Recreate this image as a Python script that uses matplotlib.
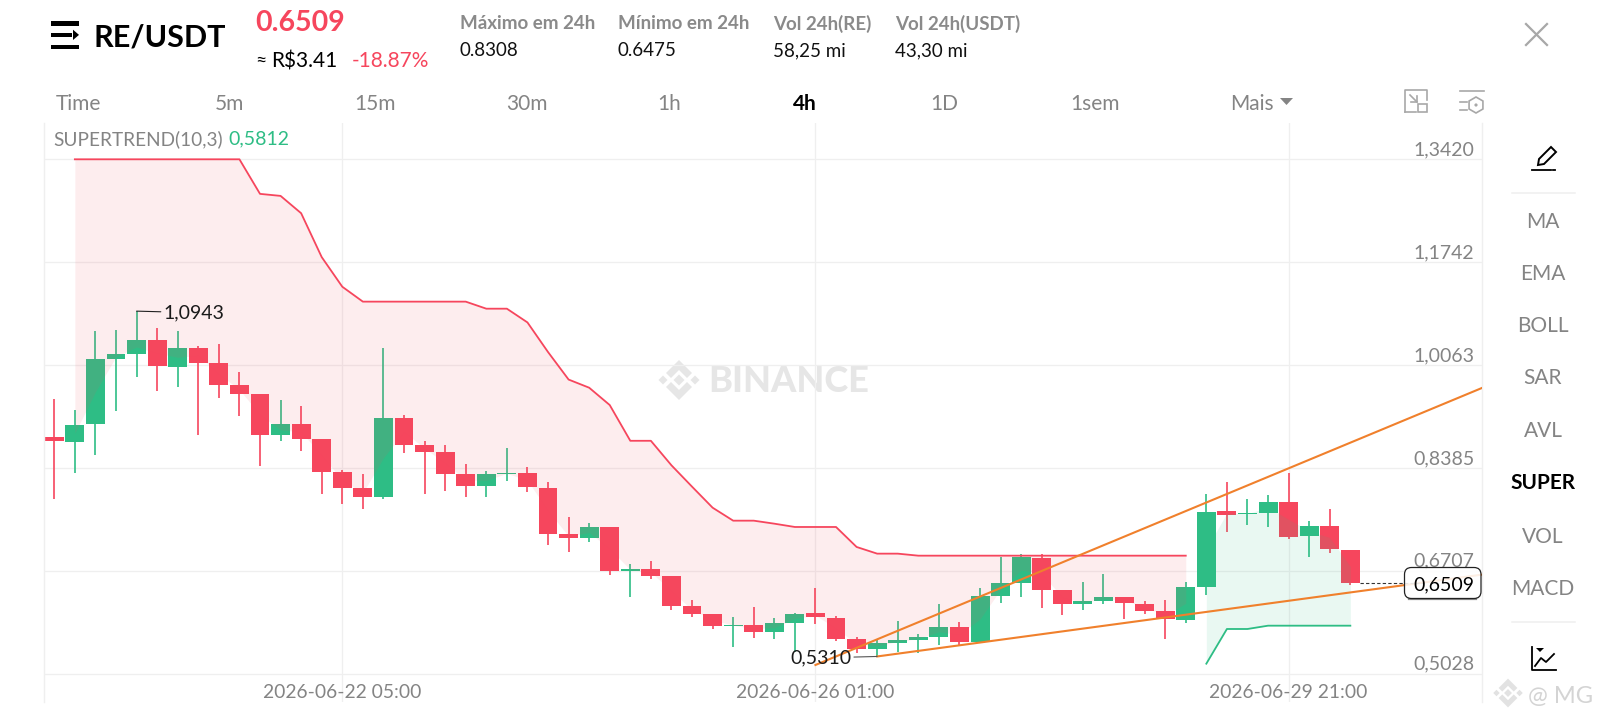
import matplotlib
matplotlib.use("Agg")
import matplotlib.pyplot as plt
import numpy as np
import matplotlib.transforms as mtrans
from matplotlib.patches import FancyBboxPatch, Rectangle, Polygon, RegularPolygon, Circle

plt.rcParams['font.family'] = ['Lato', 'DejaVu Sans']

# ---- data ----
open_ = [.8884,.8814,.9096,1.0162,1.0238,1.0478,1.0037,1.0342,1.0102,.9733,.9591,.8917,.9096,.8852,.8324,.8052,
         .7906,.9194,.8765,.8640,.8286,.8085,.8286,.8297,.8064,.7302,.7237,.7427,.6710,.6742,.6623,.6139,
         .6003,.5807,.5823,.5709,.5856,.6014,.5943,.5590,.5432,.5535,.5579,.5628,.5796,.5546,.6302,.6508,
         .6921,.6389,.6160,.6220,.6280,.6171,.6051,.5910,.6448,.7677,.7628,.7656,.7830,.7269,.7444,.7047]
high = [.9504,.9330,1.0619,1.0635,1.0943,1.0668,1.0619,1.0374,1.0407,.9945,.9591,.9493,.9396,.8852,.8351,.8281,
        1.0336,.9243,.8830,.8759,.8449,.8341,.8705,.8395,.8151,.7580,.7482,.7427,.6813,.6862,.6623,.6231,
        .6003,.5948,.6117,.5932,.6014,.6427,.5965,.5622,.5579,.5894,.5676,.6166,.5872,.6427,.6938,.6981,
        .6981,.6394,.6530,.6655,.6285,.6209,.6225,.6519,.7955,.8161,.7873,.7938,.8308,.7520,.7710,.7047]
low = [.7873,.8303,.8591,.9319,.9863,.9635,.9711,.8922,.9531,.9232,.8417,.8830,.8667,.7960,.7797,.7710,
       .7884,.8623,.7965,.8014,.7916,.7916,.8172,.7998,.7134,.7020,.7183,.6639,.6286,.6568,.6073,.5959,
       .5763,.5470,.5611,.5595,.5388,.5840,.5562,.5372,.5310,.5388,.5361,.5502,.5492,.5546,.6177,.6285,
       .6100,.5992,.6062,.6171,.5926,.6008,.5589,.5850,.6318,.7346,.7460,.7427,.7226,.6938,.6992,.6475]
close = [.8819,.9091,1.0157,1.0238,1.0478,1.0043,1.0342,1.0102,.9733,.9591,.8917,.9096,.8852,.8324,.8052,.7906,
         .9194,.8765,.8640,.8292,.8085,.8281,.8308,.8069,.7308,.7243,.7427,.6704,.6742,.6623,.6139,.6003,
         .5812,.5829,.5709,.5850,.6008,.5948,.5595,.5437,.5530,.5573,.5622,.5796,.5541,.6296,.6503,.6927,
         .6394,.6160,.6220,.6280,.6177,.6057,.5916,.6443,.7672,.7623,.7650,.7830,.7264,.7444,.7057,.6509]
st_bear = [1.3420]*9 + [1.2856,1.2823,1.2540,1.1824,1.1341,1.1098,1.1098,1.1098,1.1098,1.1098,1.1098,
           1.0983,1.0983,1.0759,1.0276,.9827,.9694,.9411,.8828,.8828,.8428,.8080,.7737,.7525,.7525,.7476,
           .7422,.7422,.7422,.7096,.6987,.6987,.6954,.6954,.6954] + [.6954]*11
st_bull = [.5192,.5758,.5758,.5812,.5812,.5812,.5812,.5812]
y_ticks = [1.3420,1.1742,1.0063,.8385,.6707,.5028]
y_labels = ['1,3420','1,1742','1,0063','0,8385','0,6707','0,5028']
time_idx = [14,37,60]
time_labels = ['2026-06-22 05:00','2026-06-26 01:00','2026-06-29 21:00']
trend_up_idx, trend_up_val = [37,60], [.5171,.8379]
trend_lo_idx, trend_lo_val = [40,65.68], [.5310,.6476]
tf_labels = ['Time','5m','15m','30m','1h','4h','1D','1sem','Mais']
side_labels = ['MA','EMA','BOLL','SAR','AVL','SUPER','VOL','MACD']
stat_names = ['Máximo em 24h','Mínimo em 24h','Vol 24h(RE)','Vol 24h(USDT)']
stat_values = ['0.8308','0.6475','58,25 mi','43,30 mi']

RED, GREEN, GREY = '#F6465D', '#2EBD85', '#848484'
GRID = '#EFEFEF'
W, H = 1600, 720
idx = np.arange(len(close))
o, h, l, c = map(np.array, (open_, high, low, close))
mid = (o + c) / 2

fig = plt.figure(figsize=(16, 7.2), dpi=100, facecolor='white')

# watermark layer underneath the chart
wmk = fig.add_axes([0, 0, 1, 1], facecolor='none', zorder=0)
wmk.set_xlim(0, W); wmk.set_ylim(H, 0); wmk.axis('off')

def binance_logo(a, cx, cy, s, col, z=1):
    top = np.array([[0,-20],[13,-7],[8,-2],[0,-10],[-8,-2],[-13,-7]], float)
    bot = top * [1, -1]
    for shape in (top, bot):
        a.add_patch(Polygon(shape*s + [cx, cy], fc=col, lw=0, zorder=z))
    for dx, r in ((0, 5.5), (-16, 4.5), (16, 4.5)):
        a.add_patch(RegularPolygon((cx+dx*s, cy), 4, radius=r*s, fc=col, lw=0, zorder=z))

binance_logo(wmk, 679, 380, 1, '#E6E6E6')
wmk.text(708, 381, 'BINANCE', fontsize=26, fontweight='black', color='#E6E6E6', va='center', ha='left')

# main plot area (pixels: x 44-1482, y 122.7-702)
ax = fig.add_axes([44/W, 1-702/H, (1482-44)/W, (702-122.7)/H], facecolor='none', zorder=1)
ax.set_xlim(-0.5, 69.4)
ax.set_ylim(.4567, 1.4017)
for side in ('top', 'bottom'):
    ax.spines[side].set_visible(False)
for side in ('left', 'right'):
    ax.spines[side].set_color(GRID); ax.spines[side].set_linewidth(1)

ax.set_axisbelow(True)
ax.grid(True, color=GRID, lw=0.9)
ax.yaxis.tick_right()
ax.set_yticks(y_ticks); ax.set_yticklabels(y_labels)
ax.set_xticks(time_idx); ax.set_xticklabels(time_labels)
ax.tick_params(axis='x', length=0, pad=-13, labelsize=13.9, labelcolor=GREY)
ax.tick_params(axis='y', length=0, pad=-5.6, labelsize=14, labelcolor=GREY)
for t in ax.get_yticklabels():
    t.set_ha('right'); t.set_va('center')
    t.set_transform(t.get_transform() + mtrans.ScaledTranslation(0, 9.5/100, fig.dpi_scale_trans))

# candles
colors = [GREEN if cc >= oo else RED for oo, cc in zip(o, c)]
ax.vlines(idx, l, h, colors=colors, lw=1.2, zorder=2)
ax.bar(idx, np.abs(c-o), bottom=np.minimum(o, c), width=0.92, color=colors, zorder=2.1, linewidth=0)

# supertrend
bear_idx = idx[1:1+len(st_bear)]
bull_idx = idx[1+len(st_bear):]
ax.fill_between(bear_idx, st_bear, mid[bear_idx], color='#F0505F', alpha=0.10, lw=0, zorder=3)
ax.fill_between(bull_idx, st_bull, mid[bull_idx], color=GREEN, alpha=0.10, lw=0, zorder=3)
ax.plot(bear_idx, st_bear, color=RED, lw=1.3, zorder=4)
ax.plot(bull_idx, st_bull, color=GREEN, lw=1.3, zorder=4)

# trend lines
for xs, ys in ((trend_up_idx, trend_up_val), (trend_lo_idx, trend_lo_val)):
    slope = (ys[1]-ys[0])/(xs[1]-xs[0])
    ax.plot([xs[0], 69.4], [ys[0], ys[0]+slope*(69.4-xs[0])], color='#F0802C', lw=1.5, zorder=5)

# high / low markers
hi_i, lo_i = int(np.argmax(h)), int(np.argmin(l))
ax.annotate('1,0943', xy=(hi_i, h[hi_i]), xytext=(27, 0), textcoords='offset pixels', va='center_baseline', ha='left',
            fontsize=14, color='#1a1a1a', zorder=6,
            arrowprops=dict(arrowstyle='-', color='#222222', lw=0.8, shrinkA=0, shrinkB=0))
ax.annotate('0,5310', xy=(lo_i, l[lo_i]), xytext=(-26, 0), textcoords='offset pixels', va='center_baseline', ha='right',
            fontsize=14, color='#1a1a1a', zorder=6,
            arrowprops=dict(arrowstyle='-', color='#555555', lw=0.8, shrinkA=0, shrinkB=0))

# last price
ax.hlines(c[-1], idx[-1]+0.46, 66.7, colors='#333333', lw=0.8, linestyles=(0, (3, 2)), zorder=6)

# UI overlay in pixels
ui = fig.add_axes([0, 0, 1, 1], facecolor='none', zorder=2)
ui.set_xlim(0, W); ui.set_ylim(H, 0); ui.axis('off')

def T(x, y, s, **kw):
    kw.setdefault('va', 'center'); kw.setdefault('ha', 'left')
    ui.text(x, y, s, **kw)

# price box
ui.plot([1409, 1476], [598.5, 598.5], color='#8c8c8c', lw=1.6, zorder=6)
ui.add_patch(FancyBboxPatch((1404.5, 567.5), 76.5, 31, boxstyle='round,pad=0,rounding_size=7',
                            fc=(1, 1, 1, 0.88), ec='#222222', lw=0.9, zorder=7))
T(1413, 585, '0,6509', fontsize=14, color='black', zorder=8)

# logo
for y0, x1, hh in ((21.3, 79, 4.5), (32.5, 72, 4.8), (44.7, 79, 4.5)):
    ui.add_patch(Rectangle((51, y0), x1-51, hh, fc='black', lw=0))
ui.add_patch(Polygon([[73, 29.7], [79, 34.9], [73, 40]], fc='black', lw=0))
T(93, 37, 'RE/USDT', fontsize=22, fontweight='bold', color='black')
T(255, 23, '0.6509', fontsize=20.5, fontweight='bold', color=RED)
T(255, 60, '≈', fontsize=14, color='black')
T(271, 61, 'R$3.41', fontsize=15, color='black')
T(352, 61, '-18.87%', fontsize=15, color=RED)
for xp, n, v in zip([460, 618, 773, 895], stat_names, stat_values):
    T(xp, 23.5, n, fontsize=13.5, fontweight='bold', color='#8a8a8a')
    T(xp, 51, v, fontsize=13.5, color='#111111')

# timeframe bar
for xp, s in zip([78, 229, 375, 527, 669, 805, 944, 1095, 1252], tf_labels):
    active = s == '4h'
    T(xp, 103.5, s, ha='center', fontsize=15, color='black' if active else GREY, fontweight='bold' if active else 'normal')
ui.add_patch(Polygon([[1280, 98], [1293, 98], [1286.5, 105]], fc=GREY, lw=0))

# toolbar icons
ic = '#A8A8A8'
ui.plot([1405, 1405, 1427, 1427], [112, 90, 90, 100], color=ic, lw=1.2)
ui.plot([1405, 1416], [112, 112], color=ic, lw=1.2)
ui.add_patch(Rectangle((1418, 104), 9, 8, fc='none', ec=ic, lw=1.2))
ui.plot([1410, 1417], [95, 102], color=ic, lw=1.2)
ui.plot([1411, 1417, 1417], [102, 102, 96], color=ic, lw=1.2)
ui.plot([1460, 1484], [91, 91], color=ic, lw=1.2)
ui.plot([1460, 1467], [102, 102], color=ic, lw=1.2)
ui.plot([1460, 1467], [110, 110], color=ic, lw=1.2)
ui.add_patch(RegularPolygon((1476, 105), 6, radius=8, fc='none', ec=ic, lw=1.2))
ui.add_patch(Circle((1476, 105), 1.6, fc=ic, lw=0))
ui.plot([1526, 1547], [24, 45], color=ic, lw=1.6)
ui.plot([1526, 1547], [45, 24], color=ic, lw=1.6)

# sidebar
ui.add_patch(Polygon([[1538, 165], [1539, 159], [1551, 147], [1556, 152], [1544, 164]], fc='none', ec='black', lw=1.4))
ui.plot([1532, 1551], [169.5, 169.5], color='black', lw=1.3)
ui.plot([1553, 1555], [169.5, 169.5], color='black', lw=1.3)
ui.plot([1512, 1575], [193, 193], color=GRID, lw=1.1)
ui.plot([1512, 1575], [622, 622], color=GRID, lw=1.1)
for yp, s in zip([222, 274.5, 326.5, 378.5, 430.6, 482.6, 536.7, 588.8], side_labels):
    active = s == 'SUPER'
    T(1543, yp, s, ha='center', fontsize=15, color='black' if active else GREY, fontweight='bold' if active else 'normal')
ui.plot([1532, 1532, 1556], [647, 670, 670], color='black', lw=1.3)
ui.plot([1535, 1541, 1546, 1554], [666, 658, 662, 654], color='black', lw=1.3)
ui.add_patch(Polygon([[1536, 648], [1544, 648], [1540, 652]], fc='black', lw=0))

# legend
T(53, 139, 'SUPERTREND(10,3)', fontsize=13.7, color=GREY)
T(228, 139, '0,5812', fontsize=14, color=GREEN)

# small watermark
binance_logo(ui, 1508, 693, 0.72, '#E2E2E2')
T(1528, 696, '@ MG', fontsize=17, color='#D4D4D4')

fig.savefig('out.png', dpi=100)
